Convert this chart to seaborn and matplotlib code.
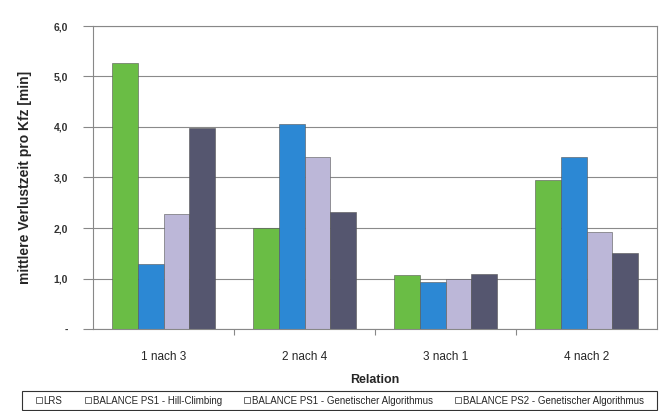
import matplotlib
matplotlib.use("Agg")
import matplotlib.pyplot as plt
import seaborn as sns
import pandas as pd
import numpy as np
from matplotlib.patches import Patch, Rectangle
from matplotlib.ticker import FuncFormatter, FixedLocator

categories = ["1 nach 3", "2 nach 4", "3 nach 1", "4 nach 2"]
series_names = ["LRS", "BALANCE PS1 - Hill-Climbing",
                "BALANCE PS1 - Genetischer Algorithmus",
                "BALANCE PS2 - Genetischer Algorithmus"]
lrs = [5.26, 2.00, 1.06, 2.96]
ps1_hc = [1.28, 4.06, 0.94, 3.41]
ps1_ga = [2.27, 3.41, 0.99, 1.93]
ps2_ga = [3.99, 2.31, 1.09, 1.51]
colors = ["#6abd45", "#2c88d4", "#bcb7d8", "#55566f"]

values = [lrs, ps1_hc, ps1_ga, ps2_ga]
rows = []
for name, vals in zip(series_names, values):
    for c, v in zip(categories, vals):
        rows.append({"Relation": c, "Serie": name, "Wert": v})
df = pd.DataFrame(rows)

sns.set_theme(style="white")
plt.rcParams['font.family'] = ['Liberation Sans', 'DejaVu Sans']

fig = plt.figure(figsize=(6.67, 4.11), dpi=100)
ax = fig.add_axes([93/667, (411-329)/411, (657-93)/667, (329-26)/411])

sns.barplot(data=df, x="Relation", y="Wert", hue="Serie", hue_order=series_names,
            order=categories, palette=colors, width=0.73, edgecolor="#555555",
            linewidth=0.4, ax=ax, legend=False, saturation=1)

ax.set_ylim(0, 6.0)
ax.set_xlim(-0.5, 3.5)
ax.yaxis.set_major_locator(FixedLocator([0, 1, 2, 3, 4, 5, 6]))
ax.yaxis.set_major_formatter(FuncFormatter(lambda v, p: "-" if v == 0 else f"{v:.1f}".replace(".", ",")))
ax.grid(axis="y", color="#8a8a8a", linewidth=0.8)
ax.set_axisbelow(True)
for s in ax.spines.values():
    s.set_color("#888888")
    s.set_linewidth(0.8)

ax.tick_params(axis="y", which="major", left=True, length=7, width=0.8, color="#888888",
               pad=11, labelsize=7.5)
for lbl in ax.get_yticklabels():
    lbl.set_fontweight("bold")
    lbl.set_color("#333333")
ax.set_xticks([0.5, 1.5, 2.5], minor=True)
ax.tick_params(axis="x", which="minor", bottom=True, length=4, width=0.8, color="#888888")
ax.tick_params(axis="x", which="major", bottom=False, pad=10, labelsize=8.5)

ax.set_ylabel("mittlere Verlustzeit pro Kfz [min]", fontsize=10, fontweight="bold")
ax.yaxis.set_label_coords(-(93-32)/564, 0.5)
ax.set_xlabel("Relation", fontsize=9, fontweight="bold", labelpad=8)

handles = [Patch(facecolor="white", edgecolor="#555555", linewidth=0.6, label=n) for n in series_names]
leg = fig.legend(handles=handles, loc="center", ncol=4, bbox_to_anchor=(340/667, (411-400.5)/411),
                 fontsize=7, frameon=False,
                 handlelength=0.6, handleheight=0.6, handletextpad=0.2, columnspacing=2.3)
fig.patches.append(Rectangle((22/667, (411-410)/411), (657-22)/667, 19/411,
                             transform=fig.transFigure, fill=False,
                             edgecolor="#333333", linewidth=0.8))

fig.savefig("out.png", dpi=100, facecolor="white")
